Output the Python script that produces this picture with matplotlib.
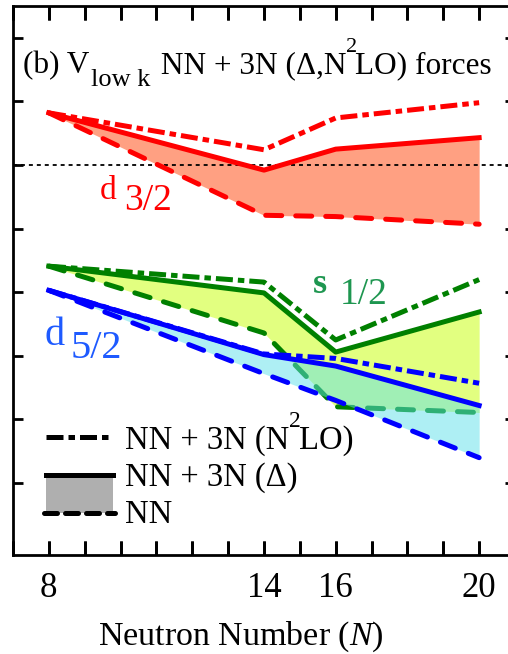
import matplotlib
matplotlib.use("Agg")
import matplotlib.pyplot as plt
import matplotlib.transforms as mtransforms
from matplotlib.lines import Line2D
from matplotlib.patches import Rectangle
from matplotlib.ticker import FixedLocator, FixedFormatter

plt.rcParams['font.family'] = ['Liberation Serif', 'DejaVu Serif']
plt.rcParams['mathtext.fontset'] = 'custom'
plt.rcParams['mathtext.rm'] = 'Liberation Serif'
plt.rcParams['mathtext.it'] = 'Liberation Serif:italic'

# ---- data ----
N = [8, 14, 16, 20]
d32_n2lo = [0.82, 0.24, 0.74, 0.98]
d32_delta = [0.82, -0.08, 0.25, 0.43]
d32_nn = [0.82, -0.79, -0.81, -0.93]
s12_n2lo = [-1.59, -1.84, -2.75, -1.80]
s12_delta = [-1.59, -2.01, -2.94, -2.31]
s12_nn = [-1.59, -2.64, -3.80, -3.89]
d52_n2lo = [-1.97, -2.97, -3.04, -3.43]
d52_delta = [-1.97, -2.98, -3.16, -3.78]
d52_nn = [-1.97, -3.28, -3.70, -4.60]
xtick_vals = [8, 14, 16, 20]

W, H = 508, 654
fig = plt.figure(figsize=(W / 100, H / 100), dpi=100)
ax = fig.add_axes([13 / W, 1 - 555 / H, 502 / W, 549 / H])
ax.set_xlim(7, 21)
ax.set_ylim(-6.13, 2.5)

lw = 3.6
DASH = (0, (3.2, 2.8))
DASHDOT = (0, (3.4, 1.0, 1.3, 1.0))
dkw = dict(dash_capstyle='round')

red, green, blue = '#ff0000', '#008000', '#0000ff'

# zero line
ax.axhline(0, color='black', lw=1.3, ls=(0, (2.2, 2.2)), zorder=1.5)

# red d3/2
ax.fill_between(N, d32_delta, d32_nn, color='#ffa082', lw=0, zorder=1)
ax.plot(N, d32_n2lo, color=red, lw=lw, ls=DASHDOT, zorder=2)
ax.plot(N, d32_delta, color=red, lw=lw, zorder=2)
ax.plot(N, d32_nn, color=red, lw=lw, ls=DASH, zorder=2, **dkw)

# green s1/2
ax.fill_between(N, s12_delta, s12_nn, color='#e2ff80', lw=0, zorder=1)
ax.plot(N, s12_n2lo, color=green, lw=lw, ls=DASHDOT, zorder=2)
ax.plot(N, s12_delta, color=green, lw=lw, zorder=2)
ax.plot(N, s12_nn, color=green, lw=lw, ls=DASH, zorder=2, **dkw)

# blue d5/2
ax.fill_between(N, d52_delta, d52_nn, color='#5fe1eb', alpha=0.5, lw=0, zorder=3)
ax.plot(N, d52_n2lo, color=blue, lw=lw, ls=DASHDOT, zorder=4)
ax.plot(N, d52_delta, color=blue, lw=lw, zorder=4)
ax.plot(N, d52_nn, color=blue, lw=lw, ls=DASH, zorder=4, **dkw)

# curve labels
ax.text(9.42, -0.535, 'd', color=red, fontsize=24, ha='left', va='baseline')
ax.text(10.09, -0.71, '3/2', color=red, fontsize=27, ha='left', va='baseline')
ax.text(15.37, -2.01, 's', color='#1e9650', fontsize=26, fontweight='bold', ha='left', va='baseline')
ax.text(16.12, -2.19, '1/2', color='#1e9650', fontsize=27, ha='left', va='baseline')
ax.text(7.88, -2.83, 'd', color='#1e5aff', fontsize=29, ha='left', va='baseline')
ax.text(8.6, -3.03, '5/2', color='#1e5aff', fontsize=29, ha='left', va='baseline')

# title, built from chained pieces
t1 = ax.text((23 - 13) / 502, (555 - 73) / 549, '(b) V', transform=ax.transAxes,
             fontsize=22.5, ha='left', va='baseline')
t2 = ax.annotate('low k', xy=(1, 0), xycoords=t1, xytext=(1, -8),
                 textcoords='offset points', fontsize=19, ha='left', va='bottom')
t3 = ax.annotate(' NN + 3N (Δ,N', xy=(1, 0), xycoords=t2, xytext=(2, 8),
                 textcoords='offset points', fontsize=22.5, ha='left', va='bottom')
t4 = ax.annotate('2', xy=(1, 0), xycoords=t3, xytext=(0, 20),
                 textcoords='offset points', fontsize=16, ha='left', va='baseline')
t5 = ax.annotate('LO) forces', xy=(1, 0), xycoords=t3, xytext=(6, 0),
                 textcoords='offset points', fontsize=22.5, ha='left', va='bottom')

# legend (manual)
def ax_xy(px, py):
    return (px - 13) / 502, (555 - py) / 549

x0, _ = ax_xy(46, 0)
x1, _ = ax_xy(113, 0)
_, yA = ax_xy(0, 437)
_, yB = ax_xy(0, 475)
_, yC = ax_xy(0, 513)
ax.add_patch(Rectangle((x0, yC), x1 - x0, yB - yC, transform=ax.transAxes,
                       color='#afafaf', lw=0, zorder=5))
ax.add_line(Line2D([x0, x1], [yA, yA], transform=ax.transAxes, color='black', lw=lw, ls=DASHDOT, zorder=6))
ax.add_line(Line2D([x0, x1], [yB, yB], transform=ax.transAxes, color='black', lw=lw, zorder=6))
ax.add_line(Line2D([x0 - 0.003, x1 + 0.003], [yC, yC], transform=ax.transAxes, color='black', lw=lw,
                   ls=(0, (2.6, 1.6)), zorder=6, **dkw))
tx, _ = ax_xy(125, 0)
_, tyA = ax_xy(0, 449)
la = ax.text(tx, tyA, 'NN + 3N (N', transform=ax.transAxes, fontsize=23.5, ha='left', va='baseline')
lb = ax.annotate('2', xy=(1, 0), xycoords=la, xytext=(0, 21),
                 textcoords='offset points', fontsize=17, ha='left', va='baseline')
ax.annotate('LO)', xy=(1, 0), xycoords=la, xytext=(7, 0),
            textcoords='offset points', fontsize=23.5, ha='left', va='bottom')
for lab, py in [('NN + 3N (Δ)', 486), ('NN', 523)]:
    _, ty = ax_xy(0, py)
    ax.text(tx, ty, lab, transform=ax.transAxes, fontsize=23.5, ha='left', va='baseline')

# ticks
xt = list(range(7, 22))
ax.xaxis.set_major_locator(FixedLocator(xt))
ax.xaxis.set_major_formatter(FixedFormatter([str(v) if v in xtick_vals else '' for v in xt]))
ax.yaxis.set_major_locator(FixedLocator(list(range(-5, 3))))
ax.yaxis.set_major_formatter(FixedFormatter([''] * 8))
ax.tick_params(axis='x', which='major', direction='in', top=True, bottom=True,
               length=10, width=2, color='black', labelsize=25, pad=12)
ax.tick_params(axis='y', which='major', direction='in', left=True, right=True,
               length=7, width=2, color='black')
# reinforce x tick marks (same positions as the axis ticks)
blend = mtransforms.blended_transform_factory(ax.transData, ax.transAxes)
tl = 14 / 549
for v in xt:
    ax.add_line(Line2D([v, v], [0, tl], transform=blend, color='black', lw=2,
                       solid_capstyle='butt', clip_on=False, zorder=7))
    ax.add_line(Line2D([v, v], [1 - tl, 1], transform=blend, color='black', lw=2,
                       solid_capstyle='butt', clip_on=False, zorder=7))
for s in ax.spines.values():
    s.set_linewidth(2)

fig.text(241 / W, 1 - 645 / H, r'Neutron Number ($\mathit{N}$)', fontsize=24.5,
         ha='center', va='baseline')

fig.savefig('out.png', dpi=100)
